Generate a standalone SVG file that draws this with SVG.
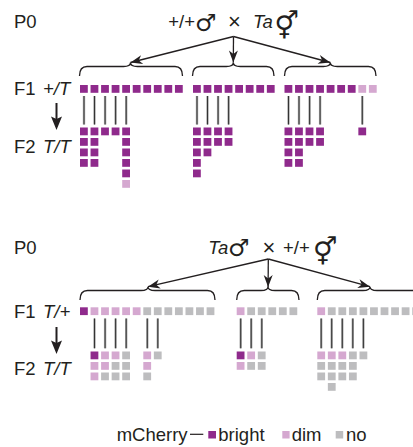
<svg xmlns="http://www.w3.org/2000/svg" width="413" height="447" viewBox="0 0 413 447">
<style>
text{font-family:"Liberation Sans",Arial,sans-serif;font-size:18.5px;fill:#231f20}
.it{font-style:italic}
.sym{font-family:"DejaVu Sans",sans-serif;font-size:24px}
.sym2{font-family:"DejaVu Sans",sans-serif;font-size:27px}
.x{font-size:22px}
.b{fill:#8f2a8c}.d{fill:#d5a8d0}.n{fill:#bdbdbf}
.br{fill:none;stroke:#231f20;stroke-width:1.3}
.ar{fill:none;stroke:#231f20;stroke-width:1.3}
.vl{stroke:#a8a8a8;stroke-width:2.4}
.vd{stroke:#333;stroke-width:1}
</style>
<defs>
<marker id="ah" markerUnits="userSpaceOnUse" markerWidth="14" markerHeight="10" refX="0" refY="0" orient="auto" overflow="visible">
<path d="M0,0 L-12,-4.5 L-8.5,0 L-12,4.5 Z" fill="#231f20"/>
</marker>
<rect id="sq" width="7.8" height="7.8"/>
</defs>

<g id="labels-top">
<text x="14" y="28.3">P0</text>
<text x="14" y="95">F1</text>
<text x="43" y="95" class="it">+/T</text>
<text x="14" y="152.5">F2</text>
<text x="43" y="152.5" class="it">T/T</text>
<line x1="56.5" y1="103" x2="56.5" y2="119" stroke="#231f20" stroke-width="2"/>
<path d="M51,116.5 L56.5,119 L62,116.5 L56.5,130 Z" fill="#231f20"/>
</g>

<g id="cross-top">
<text x="168.3" y="28.3">+/+</text>
<text x="195" y="30.5" class="sym">♂</text>
<text x="228" y="28.5" class="x">×</text>
<text x="253" y="28.3" class="it">Ta</text>
<text x="274.5" y="35" class="sym2">⚥</text>
</g>

<g id="connectors">
<path class="ar" d="M233.5,36.5 L130.5,62.5" marker-end="url(#ah)"/>
<path class="ar" d="M233.5,36.5 L233.3,62.5" marker-end="url(#ah)"/>
<path class="ar" d="M233.5,36.5 L330.3,62.5" marker-end="url(#ah)"/>
<path class="br" d="M79.5,76 Q79.5,66.5 87,66.5 H123.5 Q130.5,66.5 130.5,62.5 Q130.5,66.5 137.5,66.5 H175 Q182.5,66.5 182.5,76"/>
<path class="br" d="M192.5,76 Q192.5,66.5 200,66.5 H226.3 Q233.3,66.5 233.3,62.5 Q233.3,66.5 240.3,66.5 H266.5 Q274,66.5 274,76"/>
<path class="br" d="M284.5,76 Q284.5,66.5 292,66.5 H323.3 Q330.3,66.5 330.3,62.5 Q330.3,66.5 337.3,66.5 H368.5 Q376,66.5 376,76"/>

<path class="ar" d="M268.3,259 L148,286.7" marker-end="url(#ah)"/>
<path class="ar" d="M268.3,259 L268.1,287" marker-end="url(#ah)"/>
<path class="ar" d="M268.3,259 L370,286.7" marker-end="url(#ah)"/>
<path class="br" d="M80,300 Q80,290.5 87.5,290.5 H141 Q148,290.5 148,286.7 Q148,290.5 155,290.5 H207.5 Q215,290.5 215,300"/>
<path class="br" d="M236.7,300 Q236.7,290.5 244.2,290.5 H261 Q268,290.5 268,286.7 Q268,290.5 275,290.5 H291.5 Q299,290.5 299,300"/>
<path class="br" d="M317.3,300 Q317.3,290.5 324.8,290.5 H363 Q370,290.5 370,286.7 Q370,290.5 377,290.5 H415.5 Q423,290.5 423,300"/>

<g id="lines-top">
<g class="vl">
<line x1="84" y1="96" x2="84" y2="124.5"/><line x1="94.5" y1="96" x2="94.5" y2="124.5"/><line x1="105.1" y1="96" x2="105.1" y2="124.5"/><line x1="115.6" y1="96" x2="115.6" y2="124.5"/><line x1="126.2" y1="96" x2="126.2" y2="124.5"/>
<line x1="197" y1="96" x2="197" y2="124.5"/><line x1="207.5" y1="96" x2="207.5" y2="124.5"/><line x1="218.1" y1="96" x2="218.1" y2="124.5"/><line x1="228.6" y1="96" x2="228.6" y2="124.5"/>
<line x1="288.5" y1="96" x2="288.5" y2="124.5"/><line x1="299" y1="96" x2="299" y2="124.5"/><line x1="309.6" y1="96" x2="309.6" y2="124.5"/><line x1="320.1" y1="96" x2="320.1" y2="124.5"/><line x1="362.3" y1="96" x2="362.3" y2="124.5"/>
</g>
<g class="vd">
<line x1="84" y1="96" x2="84" y2="124.5"/><line x1="94.5" y1="96" x2="94.5" y2="124.5"/><line x1="105.1" y1="96" x2="105.1" y2="124.5"/><line x1="115.6" y1="96" x2="115.6" y2="124.5"/><line x1="126.2" y1="96" x2="126.2" y2="124.5"/>
<line x1="197" y1="96" x2="197" y2="124.5"/><line x1="207.5" y1="96" x2="207.5" y2="124.5"/><line x1="218.1" y1="96" x2="218.1" y2="124.5"/><line x1="228.6" y1="96" x2="228.6" y2="124.5"/>
<line x1="288.5" y1="96" x2="288.5" y2="124.5"/><line x1="299" y1="96" x2="299" y2="124.5"/><line x1="309.6" y1="96" x2="309.6" y2="124.5"/><line x1="320.1" y1="96" x2="320.1" y2="124.5"/><line x1="362.3" y1="96" x2="362.3" y2="124.5"/>
</g>
</g>
<g id="lines-bottom">
<g class="vl">
<line x1="94.5" y1="318.5" x2="94.5" y2="348.3"/><line x1="105.1" y1="318.5" x2="105.1" y2="348.3"/><line x1="115.6" y1="318.5" x2="115.6" y2="348.3"/><line x1="126.2" y1="318.5" x2="126.2" y2="348.3"/><line x1="147.3" y1="318.5" x2="147.3" y2="348.3"/><line x1="157.8" y1="318.5" x2="157.8" y2="348.3"/>
<line x1="240.7" y1="318.5" x2="240.7" y2="348.3"/><line x1="251.2" y1="318.5" x2="251.2" y2="348.3"/><line x1="261.8" y1="318.5" x2="261.8" y2="348.3"/>
<line x1="321.2" y1="318.5" x2="321.2" y2="348.3"/><line x1="331.7" y1="318.5" x2="331.7" y2="348.3"/><line x1="342.3" y1="318.5" x2="342.3" y2="348.3"/><line x1="352.8" y1="318.5" x2="352.8" y2="348.3"/><line x1="363.4" y1="318.5" x2="363.4" y2="348.3"/>
</g>
<g class="vd">
<line x1="94.5" y1="318.5" x2="94.5" y2="348.3"/><line x1="105.1" y1="318.5" x2="105.1" y2="348.3"/><line x1="115.6" y1="318.5" x2="115.6" y2="348.3"/><line x1="126.2" y1="318.5" x2="126.2" y2="348.3"/><line x1="147.3" y1="318.5" x2="147.3" y2="348.3"/><line x1="157.8" y1="318.5" x2="157.8" y2="348.3"/>
<line x1="240.7" y1="318.5" x2="240.7" y2="348.3"/><line x1="251.2" y1="318.5" x2="251.2" y2="348.3"/><line x1="261.8" y1="318.5" x2="261.8" y2="348.3"/>
<line x1="321.2" y1="318.5" x2="321.2" y2="348.3"/><line x1="331.7" y1="318.5" x2="331.7" y2="348.3"/><line x1="342.3" y1="318.5" x2="342.3" y2="348.3"/><line x1="352.8" y1="318.5" x2="352.8" y2="348.3"/><line x1="363.4" y1="318.5" x2="363.4" y2="348.3"/>
</g>
</g>
</g>

<g id="f1-top">
<use href="#sq" class="b" x="80" y="85"/><use href="#sq" class="b" x="90.55" y="85"/><use href="#sq" class="b" x="101.1" y="85"/><use href="#sq" class="b" x="111.65" y="85"/><use href="#sq" class="b" x="122.2" y="85"/><use href="#sq" class="b" x="132.75" y="85"/><use href="#sq" class="b" x="143.3" y="85"/><use href="#sq" class="b" x="153.85" y="85"/><use href="#sq" class="b" x="164.4" y="85"/><use href="#sq" class="b" x="174.95" y="85"/>
<use href="#sq" class="b" x="193" y="85"/><use href="#sq" class="b" x="203.55" y="85"/><use href="#sq" class="b" x="214.1" y="85"/><use href="#sq" class="b" x="224.65" y="85"/><use href="#sq" class="b" x="235.2" y="85"/><use href="#sq" class="b" x="245.75" y="85"/><use href="#sq" class="b" x="256.3" y="85"/><use href="#sq" class="b" x="266.85" y="85"/>
<use href="#sq" class="b" x="284.5" y="85"/><use href="#sq" class="b" x="295.05" y="85"/><use href="#sq" class="b" x="305.6" y="85"/><use href="#sq" class="b" x="316.15" y="85"/><use href="#sq" class="b" x="326.7" y="85"/><use href="#sq" class="b" x="337.25" y="85"/><use href="#sq" class="b" x="347.8" y="85"/><use href="#sq" class="d" x="358.35" y="85"/><use href="#sq" class="d" x="368.9" y="85"/>
</g>

<g id="f2-top">
<use href="#sq" class="b" x="80" y="127.5"/><use href="#sq" class="b" x="80" y="138"/><use href="#sq" class="b" x="80" y="148.5"/><use href="#sq" class="b" x="80" y="159"/>
<use href="#sq" class="b" x="90.55" y="127.5"/><use href="#sq" class="b" x="90.55" y="138"/><use href="#sq" class="b" x="90.55" y="148.5"/><use href="#sq" class="b" x="90.55" y="159"/>
<use href="#sq" class="b" x="101.1" y="127.5"/>
<use href="#sq" class="b" x="111.65" y="127.5"/>
<use href="#sq" class="b" x="122.2" y="127.5"/><use href="#sq" class="b" x="122.2" y="138"/><use href="#sq" class="b" x="122.2" y="148.5"/><use href="#sq" class="b" x="122.2" y="159"/><use href="#sq" class="b" x="122.2" y="169.5"/><use href="#sq" class="d" x="122.2" y="180"/>
<use href="#sq" class="b" x="193" y="127.5"/><use href="#sq" class="b" x="193" y="138"/><use href="#sq" class="b" x="193" y="148.5"/><use href="#sq" class="b" x="193" y="159"/><use href="#sq" class="b" x="193" y="169.5"/>
<use href="#sq" class="b" x="203.55" y="127.5"/><use href="#sq" class="b" x="203.55" y="138"/><use href="#sq" class="b" x="203.55" y="148.5"/>
<use href="#sq" class="b" x="214.1" y="127.5"/><use href="#sq" class="b" x="214.1" y="138"/>
<use href="#sq" class="b" x="224.65" y="127.5"/><use href="#sq" class="b" x="224.65" y="138"/>
<use href="#sq" class="b" x="284.5" y="127.5"/><use href="#sq" class="b" x="284.5" y="138"/><use href="#sq" class="b" x="284.5" y="148.5"/><use href="#sq" class="b" x="284.5" y="159"/>
<use href="#sq" class="b" x="295.05" y="127.5"/><use href="#sq" class="b" x="295.05" y="138"/><use href="#sq" class="b" x="295.05" y="148.5"/><use href="#sq" class="b" x="295.05" y="159"/>
<use href="#sq" class="b" x="305.6" y="127.5"/><use href="#sq" class="b" x="305.6" y="138"/>
<use href="#sq" class="b" x="316.15" y="127.5"/><use href="#sq" class="b" x="316.15" y="138"/>
<use href="#sq" class="b" x="358.35" y="127.5"/>
</g>

<g id="labels-bottom">
<text x="14" y="254">P0</text>
<text x="14" y="318.3">F1</text>
<text x="43" y="318.3" class="it">T/+</text>
<text x="14" y="375">F2</text>
<text x="43" y="375" class="it">T/T</text>
<line x1="56.5" y1="327" x2="56.5" y2="343" stroke="#231f20" stroke-width="2"/>
<path d="M51,340.5 L56.5,343 L62,340.5 L56.5,354 Z" fill="#231f20"/>
</g>

<g id="cross-bottom">
<text x="208.3" y="254.3" class="it">Ta</text>
<text x="228" y="256" class="sym">♂</text>
<text x="262.5" y="254.5" class="x">×</text>
<text x="283" y="254.3">+/+</text>
<text x="313" y="261" class="sym2">⚥</text>
</g>

<g id="f1-bottom">
<use href="#sq" class="b" x="80" y="307.3"/><use href="#sq" class="d" x="90.55" y="307.3"/><use href="#sq" class="d" x="101.1" y="307.3"/><use href="#sq" class="d" x="111.65" y="307.3"/><use href="#sq" class="d" x="122.2" y="307.3"/><use href="#sq" class="d" x="132.75" y="307.3"/><use href="#sq" class="n" x="143.3" y="307.3"/><use href="#sq" class="n" x="153.85" y="307.3"/><use href="#sq" class="n" x="164.4" y="307.3"/><use href="#sq" class="n" x="174.95" y="307.3"/><use href="#sq" class="n" x="185.5" y="307.3"/><use href="#sq" class="n" x="196.05" y="307.3"/><use href="#sq" class="n" x="206.6" y="307.3"/>
<use href="#sq" class="d" x="236.7" y="307.3"/><use href="#sq" class="n" x="247.25" y="307.3"/><use href="#sq" class="n" x="257.8" y="307.3"/><use href="#sq" class="n" x="268.35" y="307.3"/><use href="#sq" class="n" x="278.9" y="307.3"/><use href="#sq" class="n" x="289.45" y="307.3"/>
<use href="#sq" class="d" x="317.3" y="307.3"/><use href="#sq" class="n" x="327.85" y="307.3"/><use href="#sq" class="n" x="338.4" y="307.3"/><use href="#sq" class="n" x="348.95" y="307.3"/><use href="#sq" class="n" x="359.5" y="307.3"/><use href="#sq" class="n" x="370.05" y="307.3"/><use href="#sq" class="n" x="380.6" y="307.3"/><use href="#sq" class="n" x="391.15" y="307.3"/><use href="#sq" class="n" x="401.7" y="307.3"/><use href="#sq" class="n" x="412.25" y="307.3"/>
</g>

<g id="f2-bottom">
<use href="#sq" class="b" x="90.55" y="351.5"/><use href="#sq" class="d" x="90.55" y="362"/><use href="#sq" class="d" x="90.55" y="372.5"/>
<use href="#sq" class="d" x="101.1" y="351.5"/><use href="#sq" class="d" x="101.1" y="362"/><use href="#sq" class="n" x="101.1" y="372.5"/>
<use href="#sq" class="d" x="111.65" y="351.5"/><use href="#sq" class="n" x="111.65" y="362"/><use href="#sq" class="n" x="111.65" y="372.5"/>
<use href="#sq" class="n" x="122.2" y="351.5"/><use href="#sq" class="n" x="122.2" y="362"/><use href="#sq" class="n" x="122.2" y="372.5"/>
<use href="#sq" class="d" x="143.3" y="351.5"/><use href="#sq" class="d" x="143.3" y="362"/><use href="#sq" class="n" x="143.3" y="372.5"/>
<use href="#sq" class="n" x="153.85" y="351.5"/>
<use href="#sq" class="b" x="236.7" y="351.5"/><use href="#sq" class="d" x="236.7" y="362"/>
<use href="#sq" class="d" x="247.25" y="351.5"/><use href="#sq" class="n" x="247.25" y="362"/>
<use href="#sq" class="n" x="257.8" y="351.5"/><use href="#sq" class="n" x="257.8" y="362"/>
<use href="#sq" class="d" x="317.3" y="351.5"/><use href="#sq" class="n" x="317.3" y="362"/><use href="#sq" class="n" x="317.3" y="372.5"/>
<use href="#sq" class="d" x="327.85" y="351.5"/><use href="#sq" class="n" x="327.85" y="362"/><use href="#sq" class="n" x="327.85" y="372.5"/><use href="#sq" class="n" x="327.85" y="383"/>
<use href="#sq" class="d" x="338.4" y="351.5"/><use href="#sq" class="n" x="338.4" y="362"/><use href="#sq" class="n" x="338.4" y="372.5"/>
<use href="#sq" class="n" x="348.95" y="351.5"/><use href="#sq" class="n" x="348.95" y="362"/><use href="#sq" class="n" x="348.95" y="372.5"/>
<use href="#sq" class="n" x="359.5" y="351.5"/>
</g>

<g id="legend">
<text x="116.7" y="440.7">mCherry</text>
<line x1="190" y1="434.3" x2="203.3" y2="434.3" stroke="#231f20" stroke-width="1.2"/>
<rect class="b" x="208.3" y="431" width="7.7" height="7.5"/>
<text x="218.3" y="440.7">bright</text>
<rect class="d" x="282.3" y="431" width="7.3" height="7.5"/>
<text x="291.7" y="440.7">dim</text>
<rect class="n" x="335.7" y="431" width="7.5" height="7.5"/>
<text x="346" y="440.7">no</text>
</g>
</svg>
